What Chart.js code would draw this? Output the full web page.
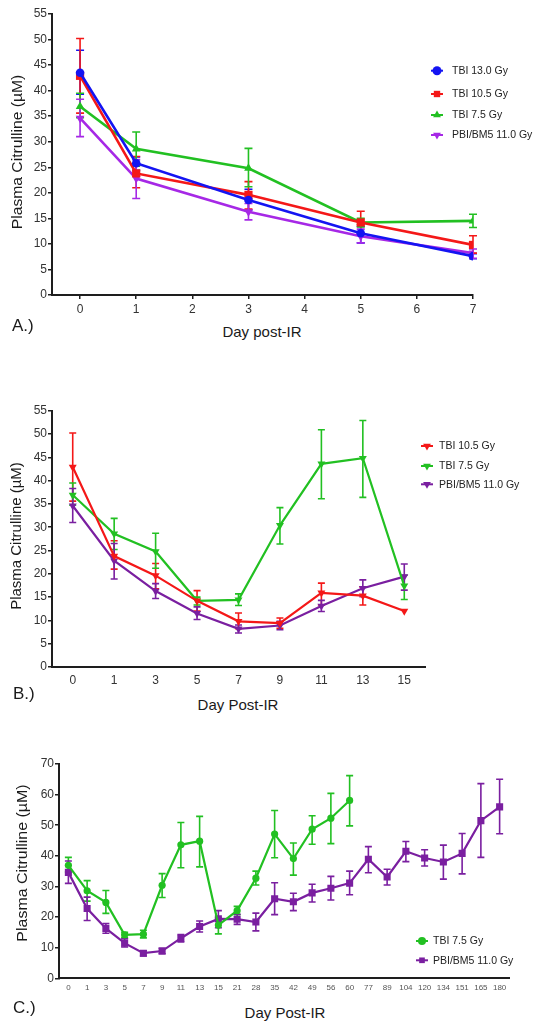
<!DOCTYPE html>
<html><head><meta charset="utf-8">
<script src="https://cdn.jsdelivr.net/npm/chart.js@4.4.1/dist/chart.umd.min.js"></script>
<style>
html,body{margin:0;padding:0;background:#fff;}
#wrap{position:relative;width:545px;height:1029px;overflow:hidden;font-family:"Liberation Sans",Arial,sans-serif;color:#1a1a1a;}
canvas{position:absolute;left:0;}
.c{position:absolute;white-space:nowrap;line-height:1;transform:translate(-50%,-50%);}
.l{position:absolute;white-space:nowrap;line-height:1;transform:translate(0,-50%);font-size:17px;}
.yt{position:absolute;white-space:nowrap;line-height:1;font-size:14px;}
</style></head><body>
<div id="wrap">
<canvas id="cA" width="545" height="320" style="top:0px"></canvas>
<canvas id="cB" width="545" height="295" style="top:395px"></canvas>
<canvas id="cC" width="545" height="255" style="top:745px"></canvas>

<div class="yt" style="left:17px;top:152px;transform:translate(-50%,-50%) rotate(-90deg) scaleX(1.12);">Plasma Citrulline (µM)</div>
<div class="c" style="left:262px;top:331px;font-size:15px;">Day post-IR</div>
<div class="l" style="left:12px;top:325px;">A.)</div>

<div class="yt" style="left:16px;top:536px;transform:translate(-50%,-50%) rotate(-90deg) scaleX(1.07);">Plasma Citrulline (µM)</div>
<div class="c" style="left:238px;top:704px;font-size:15px;">Day Post-IR</div>
<div class="l" style="left:13px;top:693px;">B.)</div>

<div class="yt" style="left:22px;top:863px;transform:translate(-50%,-50%) rotate(-90deg) scaleX(1.14);">Plasma Citrulline (µM)</div>
<div class="c" style="left:285px;top:1012px;font-size:15px;">Day Post-IR</div>
<div class="l" style="left:13px;top:1007px;">C.)</div>
</div>
<script>
// ---------------- DATA ----------------
// Panel A (linear day axis)
const xTicksA = [0, 1, 2, 3, 4, 5, 6, 7];
const daysA = [0, 1, 3, 5, 7];
const a130 = [43.5, 25.8, 18.6, 12.1, 7.6];
const a130Hi = [47.9, 27.0, 20.7, 13.4, 8.1];
const a130Lo = [39.3, 24.4, 16.6, 10.2, 7.1];
const a105 = [42.9, 23.8, 19.6, 14.2, 9.8];
const a105Hi = [50.2, 27.1, 22.2, 16.4, 11.6];
const a105Lo = [35.6, 21.0, 16.8, 12.0, 8.2];
const a75 = [36.9, 28.6, 24.8, 14.2, 14.5];
const a75Hi = [39.5, 31.9, 28.7, 15.0, 15.8];
const a75Lo = [34.7, 25.2, 21.2, 13.3, 13.2];
const aPbi = [34.6, 22.8, 16.3, 11.5, 8.2];
const aPbiHi = [38.3, 26.5, 17.9, 12.9, 9.0];
const aPbiLo = [31.0, 18.9, 14.7, 10.2, 7.2];

// Panel B (category day axis)
const labelsB = ['0', '1', '3', '5', '7', '9', '11', '13', '15'];
const b105 = [42.9, 23.8, 19.6, 14.2, 9.8, 9.4, 15.9, 15.3, 12.0];
const b105Hi = [50.2, 27.1, 22.2, 16.4, 11.6, 10.5, 18.0, 17.2, null];
const b105Lo = [35.6, 21.0, 16.8, 12.0, 8.2, 8.3, 13.3, 13.3, null];
const b75 = [36.9, 28.6, 24.8, 14.2, 14.4, 30.4, 43.6, 44.8, 17.4];
const b75Hi = [39.5, 31.9, 28.7, 15.0, 15.7, 34.2, 50.9, 52.9, 19.7];
const b75Lo = [34.7, 25.2, 21.2, 13.3, 13.2, 26.4, 36.1, 36.4, 14.5];
const bPbi = [34.6, 22.8, 16.3, 11.5, 8.2, 8.9, 13.1, 16.9, 19.4];
const bPbiHi = [38.3, 26.5, 17.9, 12.9, 9.0, 9.8, 14.3, 18.7, 22.1];
const bPbiLo = [31.0, 18.9, 14.7, 10.2, 7.3, 8.0, 11.9, 15.1, 16.5];

// Panel C (category day axis)
const labelsC = ['0', '1', '3', '5', '7', '9', '11', '13', '15', '21', '28', '35', '42', '49', '56', '60', '77', '89', '104', '120', '134', '151', '165', '180'];
const c75 = [36.9, 28.6, 24.8, 14.2, 14.4, 30.4, 43.6, 44.8, 17.4, 22.1, 32.7, 47.1, 39.1, 48.7, 52.3, 58.1, null, null, null, null, null, null, null, null];
const c75Hi = [39.5, 31.9, 28.7, 15.0, 15.7, 34.2, 50.9, 52.9, 19.7, 23.5, 35.0, 54.8, 44.2, 53.1, 60.4, 66.2, null, null, null, null, null, null, null, null];
const c75Lo = [34.7, 25.2, 21.2, 13.3, 13.2, 26.4, 36.1, 36.4, 14.5, 20.8, 30.5, 39.4, 33.7, 43.8, 44.0, 49.8, null, null, null, null, null, null, null, null];
const cPbi = [34.6, 22.8, 16.3, 11.5, 8.2, 8.9, 13.1, 16.9, 19.4, 19.3, 18.4, 26.0, 25.0, 27.9, 29.4, 31.1, 38.9, 33.1, 41.5, 39.3, 38.0, 40.8, 51.5, 56.0];
const cPbiHi = [38.3, 26.5, 17.9, 12.9, 9.0, 9.8, 14.3, 18.7, 22.1, 20.9, 21.3, 31.2, 27.8, 30.7, 33.3, 35.0, 43.0, 35.6, 44.7, 42.0, 43.5, 47.3, 63.6, 65.0];
const cPbiLo = [31.0, 18.9, 14.7, 10.2, 7.3, 8.0, 11.9, 15.1, 16.5, 17.6, 15.5, 20.8, 22.1, 24.9, 25.6, 27.3, 34.5, 30.5, 38.1, 36.7, 32.4, 34.1, 39.5, 47.2];

// ---------------- STYLE ----------------
const FONT = "'Liberation Sans', Arial, sans-serif";
const BLUE = '#1414f2', RED = '#f41818', GREEN = '#22c022', VIOLET = '#a628e6', PURPLE = '#7a1fa0';
const TICKCOL = '#333333', AXCOL = '#1e1e1e';

function drawMarker(ctx, style, rot, x, y, r, color) {
  ctx.fillStyle = color;
  ctx.beginPath();
  if (style === 'circle') {
    ctx.arc(x, y, r, 0, Math.PI * 2);
  } else if (style === 'rect') {
    const h = r * Math.SQRT1_2;
    ctx.rect(x - h, y - h, 2 * h, 2 * h);
  } else {
    const base = (rot || 0) * Math.PI / 180 - Math.PI / 2;
    for (let k = 0; k < 3; k++) {
      const a = base + k * 2 * Math.PI / 3;
      const px = x + Math.cos(a) * r, py = y + Math.sin(a) * r;
      if (k === 0) ctx.moveTo(px, py); else ctx.lineTo(px, py);
    }
    ctx.closePath();
  }
  ctx.fill();
}

const errorBars = {
  id: 'errorBars',
  beforeDatasetsDraw(chart, args, opts) {
    const ctx = chart.ctx, ys = chart.scales.y;
    chart.data.datasets.forEach((ds, i) => {
      if (!ds.errHi) return;
      const meta = chart.getDatasetMeta(i);
      ctx.save();
      ctx.strokeStyle = ds.borderColor;
      ctx.lineWidth = opts.width;
      meta.data.forEach((pt, j) => {
        const hi = ds.errHi[j], lo = ds.errLo[j];
        if (hi == null || lo == null) return;
        const x = pt.x, yh = ys.getPixelForValue(hi), yl = ys.getPixelForValue(lo), c = opts.cap;
        ctx.beginPath();
        ctx.moveTo(x, yh); ctx.lineTo(x, yl);
        ctx.moveTo(x - c, yh); ctx.lineTo(x + c, yh);
        ctx.moveTo(x - c, yl); ctx.lineTo(x + c, yl);
        ctx.stroke();
      });
      ctx.restore();
    });
  }
};

const boxLegend = {
  id: 'boxLegend',
  afterDraw(chart, args, opts) {
    const ctx = chart.ctx;
    chart.data.datasets.forEach((ds, i) => {
      const y = opts.ys[i];
      ctx.save();
      ctx.strokeStyle = ds.borderColor;
      ctx.lineWidth = 2;
      ctx.beginPath();
      ctx.moveTo(opts.x - opts.half, y); ctx.lineTo(opts.x + opts.half, y);
      ctx.stroke();
      drawMarker(ctx, ds.pointStyle, ds.pointRotation, opts.x, y, opts.r, ds.borderColor);
      ctx.fillStyle = '#222';
      ctx.font = '10.5px ' + FONT;
      ctx.textBaseline = 'middle';
      ctx.textAlign = 'left';
      ctx.fillText(ds.label, opts.tx, y + 0.5);
      ctx.restore();
    });
  }
};

function ds(label, color, vals, hi, lo, style, rot, radius, lw, xs) {
  return {
    label: label,
    data: xs ? xs.map((d, i) => ({ x: d, y: vals[i] })) : vals,
    errHi: hi, errLo: lo,
    borderColor: color, backgroundColor: color,
    pointBackgroundColor: color, pointBorderColor: color, pointBorderWidth: 0,
    pointStyle: style, pointRotation: rot, pointRadius: radius,
    borderWidth: lw, tension: 0, fill: false
  };
}

function yScale(max, step, width) {
  return {
    min: 0, max: max,
    afterFit: s => { s.width = width; },
    border: { color: AXCOL, width: 2 },
    grid: { display: true, drawOnChartArea: false, drawTicks: true, tickLength: 4, color: AXCOL, lineWidth: 1.5 },
    ticks: { stepSize: step, font: { family: FONT, size: 12 }, color: TICKCOL, padding: 1 }
  };
}

function base(padding) {
  return {
    responsive: false, animation: false, devicePixelRatio: 1,
    layout: { padding: padding },
    events: [],
    plugins: { legend: { display: false }, tooltip: { enabled: false } }
  };
}

// ---------------- PANEL A ----------------
{
  const o = base({ top: 14, right: 72, left: 0, bottom: 0 });
  o.plugins.errorBars = { width: 1.6, cap: 4 };
  o.plugins.boxLegend = { x: 437, tx: 452, half: 6, r: 4.5, ys: [70.7, 94, 115, 135] };
  o.scales = {
    x: {
      type: 'linear', min: -0.5, max: 7,
      afterBuildTicks: s => { s.ticks = xTicksA.map(v => ({ value: v })); },
      afterFit: s => { s.height = 25; },
      border: { color: AXCOL, width: 2 },
      grid: { display: true, drawOnChartArea: false, drawTicks: true, tickLength: 4, color: AXCOL, lineWidth: 1.5 },
      ticks: { font: { family: FONT, size: 12 }, color: TICKCOL, padding: 3, autoSkip: false, maxRotation: 0 }
    },
    y: yScale(55, 5, 52)
  };
  new Chart(document.getElementById('cA'), {
    type: 'line',
    data: {
      datasets: [
        ds('TBI 13.0 Gy', BLUE, a130, a130Hi, a130Lo, 'circle', 0, 4.3, 2.6, daysA),
        ds('TBI 10.5 Gy', RED, a105, a105Hi, a105Lo, 'rect', 0, 5.8, 2.6, daysA),
        ds('TBI 7.5 Gy', GREEN, a75, a75Hi, a75Lo, 'triangle', 0, 5, 2.6, daysA),
        ds('PBI/BM5 11.0 Gy', VIOLET, aPbi, aPbiHi, aPbiLo, 'triangle', 180, 5, 2.6, daysA)
      ]
    },
    options: o,
    plugins: [errorBars, boxLegend]
  });
}

// ---------------- PANEL B ----------------
{
  const o = base({ top: 15.7, right: 120, left: 0, bottom: 0 });
  o.plugins.errorBars = { width: 1.6, cap: 3.5 };
  o.plugins.boxLegend = { x: 427, tx: 439, half: 6, r: 4.5, ys: [51, 71, 89.3] };
  o.scales = {
    x: {
      type: 'category', offset: true,
      afterFit: s => { s.height = 23; },
      border: { color: AXCOL, width: 2 },
      grid: { display: true, drawOnChartArea: false, drawTicks: true, tickLength: 4, color: 'rgba(0,0,0,0)', lineWidth: 1 },
      ticks: { font: { family: FONT, size: 12 }, color: TICKCOL, padding: 2, autoSkip: false, maxRotation: 0 }
    },
    y: yScale(55, 5, 52)
  };
  new Chart(document.getElementById('cB'), {
    type: 'line',
    data: {
      labels: labelsB,
      datasets: [
        ds('TBI 10.5 Gy', RED, b105, b105Hi, b105Lo, 'triangle', 180, 4.6, 2.2),
        ds('TBI 7.5 Gy', GREEN, b75, b75Hi, b75Lo, 'triangle', 180, 4.6, 2.2),
        ds('PBI/BM5 11.0 Gy', PURPLE, bPbi, bPbiHi, bPbiLo, 'triangle', 180, 4.6, 2.2)
      ]
    },
    options: o,
    plugins: [errorBars, boxLegend]
  });
}

// ---------------- PANEL C ----------------
{
  const o = base({ top: 19, right: 36, left: 0, bottom: 0 });
  o.plugins.errorBars = { width: 1.6, cap: 3.5 };
  o.plugins.boxLegend = { x: 422, tx: 433, half: 6, r: 4, ys: [196, 215.3] };
  o.scales = {
    x: {
      type: 'category', offset: true,
      afterFit: s => { s.height = 21.7; },
      border: { color: AXCOL, width: 2 },
      grid: { display: true, drawOnChartArea: false, drawTicks: true, tickLength: 3, color: 'rgba(0,0,0,0)', lineWidth: 1 },
      ticks: { font: { family: FONT, size: 8 }, color: '#555', padding: 2, autoSkip: false, maxRotation: 0 }
    },
    y: yScale(70, 10, 59)
  };
  new Chart(document.getElementById('cC'), {
    type: 'line',
    data: {
      labels: labelsC,
      datasets: [
        ds('TBI 7.5 Gy', GREEN, c75, c75Hi, c75Lo, 'circle', 0, 3.6, 2.2),
        ds('PBI/BM5 11.0 Gy', PURPLE, cPbi, cPbiHi, cPbiLo, 'rect', 0, 5, 2.2)
      ]
    },
    options: o,
    plugins: [errorBars, boxLegend]
  });
}
</script>
</body></html>
